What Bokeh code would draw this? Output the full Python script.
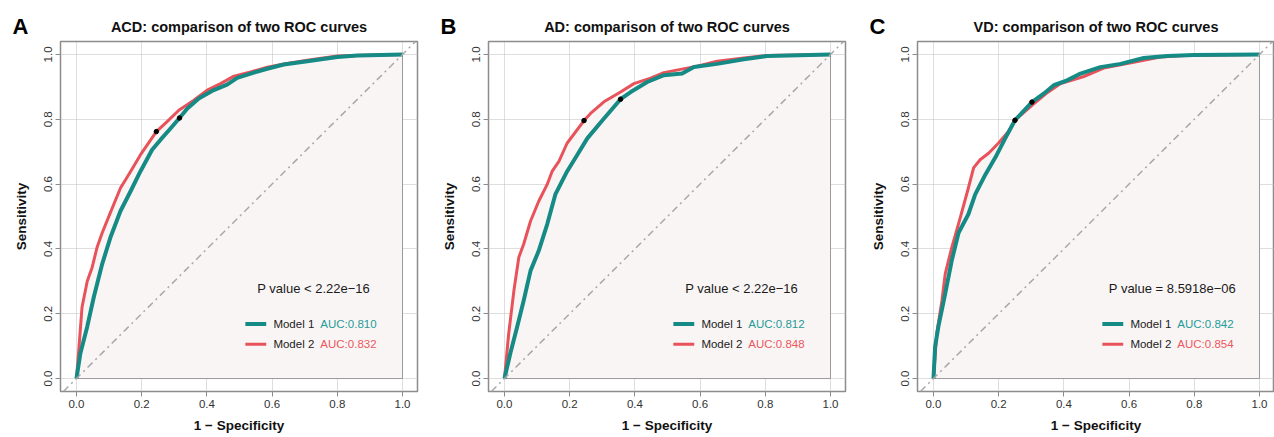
from bokeh.plotting import figure
from bokeh.layouts import row
from bokeh.models import Range1d, FixedTicker, PrintfTickFormatter, Label, Slope
from bokeh.embed import file_html
from bokeh.resources import INLINE

# ---------------- data ----------------
LETTERS = ["A", "B", "C"]
TITLES = ["ACD: comparison of two ROC curves",
          "AD: comparison of two ROC curves",
          "VD: comparison of two ROC curves"]
P_TEXTS = ["P value  < 2.22e\u221216", "P value  < 2.22e\u221216", "P value = 8.5918e\u221206"]
MODEL_NAMES = ["Model 1", "Model 2"]
AUC_M1 = ["AUC:0.810", "AUC:0.812", "AUC:0.842"]
AUC_M2 = ["AUC:0.832", "AUC:0.848", "AUC:0.854"]
TICKS = [0.0, 0.2, 0.4, 0.6, 0.8, 1.0]

A_m1_fpr = [0, 0.012, 0.033, 0.053, 0.079, 0.104, 0.135, 0.166, 0.196, 0.232, 0.258, 0.287, 0.316, 0.34, 0.375, 0.421, 0.462, 0.493, 0.544, 0.585, 0.636, 0.708, 0.80, 0.862, 1.0]
A_m1_tpr = [0, 0.078, 0.16, 0.251, 0.354, 0.435, 0.517, 0.578, 0.639, 0.706, 0.737, 0.77, 0.804, 0.833, 0.864, 0.89, 0.907, 0.928, 0.944, 0.956, 0.969, 0.979, 0.992, 0.997, 1.0]
A_m2_fpr = [0, 0.007, 0.017, 0.033, 0.048, 0.063, 0.079, 0.104, 0.135, 0.166, 0.196, 0.245, 0.278, 0.314, 0.36, 0.401, 0.442, 0.483, 0.534, 0.585, 0.636, 0.708, 0.80, 0.862, 1.0]
A_m2_tpr = [0, 0.088, 0.22, 0.30, 0.343, 0.404, 0.45, 0.512, 0.588, 0.639, 0.69, 0.762, 0.793, 0.828, 0.859, 0.89, 0.91, 0.933, 0.946, 0.961, 0.971, 0.982, 0.995, 0.997, 1.0]

B_m1_fpr = [0, 0.018, 0.039, 0.059, 0.08, 0.105, 0.131, 0.156, 0.192, 0.223, 0.254, 0.30, 0.356, 0.387, 0.438, 0.489, 0.545, 0.581, 0.652, 0.734, 0.806, 1.0]
B_m1_tpr = [0, 0.078, 0.16, 0.241, 0.333, 0.394, 0.476, 0.568, 0.639, 0.69, 0.741, 0.796, 0.862, 0.884, 0.915, 0.936, 0.941, 0.961, 0.971, 0.985, 0.995, 1.0]
B_m2_fpr = [0, 0.013, 0.029, 0.044, 0.059, 0.08, 0.105, 0.131, 0.146, 0.167, 0.192, 0.244, 0.264, 0.305, 0.356, 0.397, 0.448, 0.489, 0.54, 0.591, 0.652, 0.734, 0.806, 1.0]
B_m2_tpr = [0, 0.139, 0.272, 0.374, 0.415, 0.486, 0.547, 0.599, 0.639, 0.67, 0.726, 0.796, 0.818, 0.854, 0.884, 0.91, 0.927, 0.944, 0.954, 0.964, 0.979, 0.989, 0.997, 1.0]

C_m1_fpr = [0, 0.005, 0.015, 0.036, 0.056, 0.077, 0.107, 0.128, 0.159, 0.194, 0.22, 0.25, 0.302, 0.338, 0.369, 0.41, 0.451, 0.512, 0.574, 0.645, 0.717, 0.798, 1.0]
C_m1_tpr = [0, 0.098, 0.16, 0.262, 0.364, 0.45, 0.507, 0.568, 0.629, 0.69, 0.741, 0.797, 0.853, 0.879, 0.905, 0.92, 0.941, 0.961, 0.971, 0.989, 0.995, 0.998, 1.0]
C_m2_fpr = [0, 0.01, 0.026, 0.036, 0.056, 0.082, 0.107, 0.123, 0.143, 0.169, 0.199, 0.23, 0.25, 0.303, 0.349, 0.39, 0.461, 0.522, 0.614, 0.696, 0.77, 1.0]
C_m2_tpr = [0, 0.139, 0.241, 0.323, 0.404, 0.496, 0.588, 0.65, 0.675, 0.695, 0.726, 0.762, 0.797, 0.844, 0.882, 0.91, 0.932, 0.958, 0.976, 0.992, 0.997, 1.0]

# best-threshold points (1-specificity, sensitivity)
CUT_M1 = [(0.316, 0.804), (0.356, 0.862), (0.302, 0.853)]
CUT_M2 = [(0.245, 0.762), (0.244, 0.796), (0.25, 0.797)]

CURVES = [
    (A_m1_fpr, A_m1_tpr, A_m2_fpr, A_m2_tpr),
    (B_m1_fpr, B_m1_tpr, B_m2_fpr, B_m2_tpr),
    (C_m1_fpr, C_m1_tpr, C_m2_fpr, C_m2_tpr),
]

# ---------------- style ----------------
TEAL = "#168A85"
RED = "#E8525A"
TEAL_TXT = "#1E9C97"
RED_TXT = "#EC575D"
FILL = "#F9F5F5"
GRAY = "#8C8C8C"
FONT = "Liberation Sans"
X0, X1 = -0.049, 1.046
Y0, Y1 = -0.04, 1.04

# (width, min_border_left, min_border_right)
GEOM = [(428, 60, 11), (428, 60, 11), (418, 61, 0)]


def make_panel(i):
    width, left, right = GEOM[i]
    m1x, m1y, m2x, m2y = CURVES[i]
    p = figure(width=width, height=437, x_range=Range1d(X0, X1), y_range=Range1d(Y0, Y1),
               output_backend="svg", toolbar_location=None,
               min_border_left=left, min_border_right=right,
               min_border_top=39, min_border_bottom=46)
    p.outline_line_color = GRAY
    p.outline_line_width = 1.5
    p.background_fill_color = "white"
    p.border_fill_color = "white"

    for ax in (p.xaxis[0], p.yaxis[0]):
        ax.ticker = FixedTicker(ticks=TICKS)
        ax.formatter = PrintfTickFormatter(format="%.1f")
        ax.axis_line_color = None
        ax.major_tick_line_color = GRAY
        ax.major_tick_out = 5
        ax.major_tick_in = 0
        ax.minor_tick_line_color = None
        ax.major_label_text_font = FONT
        ax.major_label_text_font_size = "11.5px"
        ax.major_label_text_color = "#333333"
        ax.major_label_standoff = 3
        ax.axis_label_text_font = FONT
        ax.axis_label_text_font_size = "13.5px"
        ax.axis_label_text_font_style = "bold"
        ax.axis_label_text_color = "#111111"
    p.xaxis[0].axis_label = "1 \u2212 Specificity"
    p.yaxis[0].axis_label = "Sensitivity"
    p.xaxis[0].axis_label_standoff = 7
    p.yaxis[0].axis_label_standoff = 13
    p.yaxis[0].major_label_orientation = "parallel"

    for g in (p.xgrid[0], p.ygrid[0]):
        g.ticker = FixedTicker(ticks=TICKS)
        g.grid_line_color = "#BDBDBD"
        g.grid_line_dash = "1 1"
        g.grid_line_width = 1

    # AUC polygon under model 2
    p.patch(m2x + [1.0], m2y + [0.0], fill_color=FILL, line_color="#9A9A9A", line_width=1)

    # chance diagonal
    p.add_layout(Slope(gradient=1, y_intercept=0, line_color="#A8A8A8", line_width=1.5,
                       line_dash="7 4 2 4"))

    p.line(m2x, m2y, line_color=RED, line_width=3, line_join="round")
    p.line(m1x, m1y, line_color=TEAL, line_width=4, line_join="round")

    p.scatter([CUT_M2[i][0], CUT_M1[i][0]], [CUT_M2[i][1], CUT_M1[i][1]], size=4.5, color="black")

    # P value text
    p.add_layout(Label(x=0.733, y=0.278, text=P_TEXTS[i], text_align="center", text_baseline="middle",
                       text_font=FONT, text_font_size="13px", text_color="#1A1A1A"))
    # legend
    for k, (yy, col, tcol, auc, lw) in enumerate([(0.168, TEAL, TEAL_TXT, AUC_M1[i], 4),
                                                  (0.106, RED, RED_TXT, AUC_M2[i], 3)]):
        p.segment(x0=[0.518], y0=[yy], x1=[0.582], y1=[yy], line_color=col, line_width=lw)
        p.add_layout(Label(x=0.604, y=yy, text=MODEL_NAMES[k], text_align="left", text_baseline="middle",
                           text_font=FONT, text_font_size="11.5px", text_color="#222222"))
        p.add_layout(Label(x=0.748, y=yy, text=auc, text_align="left", text_baseline="middle",
                           text_font=FONT, text_font_size="11.5px", text_color=tcol))

    # title and panel letter (outside the frame -> placed in the side panel so they are not clipped)
    p.add_layout(Label(x=(X0 + X1) / 2, y=1.085, text=TITLES[i], text_align="center", text_baseline="middle",
                       text_font=FONT, text_font_size="14.5px", text_font_style="bold",
                       text_color="#111111"), "above")
    p.add_layout(Label(x=-0.196, y=1.086, text=LETTERS[i], text_align="left", text_baseline="middle",
                       text_font=FONT, text_font_size="22px", text_font_style="bold",
                       text_color="#000000"), "above")
    return p


panels = [make_panel(i) for i in range(3)]
layout = row(*panels)

open("out.html", "w").write(file_html(layout, INLINE))
